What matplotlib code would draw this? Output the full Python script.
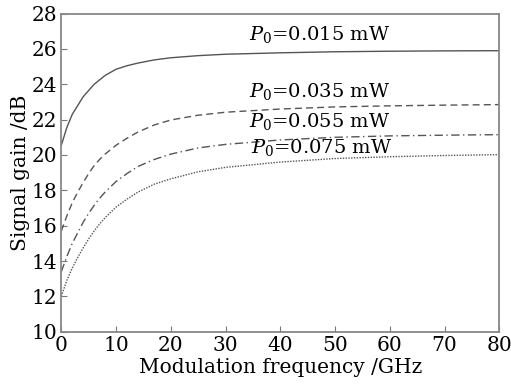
import matplotlib
matplotlib.use('Agg')
import matplotlib.pyplot as plt

plt.rcParams['font.family'] = 'DejaVu Serif'
plt.rcParams['mathtext.fontset'] = 'dejavuserif'

freq = [0, 1, 2, 3, 4, 5, 6, 7, 8, 10, 12, 14, 17, 20, 25, 30, 40, 50, 60, 70, 80]

gain_015 = [20.55, 21.55, 22.3, 22.8, 23.3, 23.65, 24.0, 24.25, 24.5, 24.85, 25.05, 25.2, 25.38, 25.5, 25.62, 25.7, 25.78, 25.84, 25.87, 25.89, 25.9]
gain_035 = [15.7, 16.55, 17.3, 17.9, 18.45, 18.95, 19.4, 19.75, 20.05, 20.55, 20.95, 21.3, 21.7, 21.98, 22.25, 22.42, 22.6, 22.72, 22.78, 22.82, 22.85]
gain_055 = [13.4, 14.25, 15.0, 15.6, 16.2, 16.7, 17.15, 17.55, 17.9, 18.5, 18.95, 19.35, 19.75, 20.05, 20.4, 20.6, 20.85, 21.0, 21.08, 21.12, 21.15]
gain_075 = [12.0, 12.9, 13.6, 14.2, 14.75, 15.25, 15.7, 16.1, 16.45, 17.05, 17.5, 17.9, 18.35, 18.65, 19.05, 19.3, 19.6, 19.8, 19.9, 19.97, 20.02]

labels = [r'$P_{\rm 0}$=0.015 mW', r'$P_{\rm 0}$=0.035 mW',
          r'$P_{\rm 0}$=0.055 mW', r'$P_{\rm 0}$=0.075 mW']
label_x = [34.3, 34.3, 34.3, 34.6]
label_y = [26.8, 23.6, 21.9, 20.45]

fig = plt.figure(figsize=(5.11, 3.88), dpi=100)
ax = fig.add_axes([0.12, 0.145, 0.857, 0.82])

line_color = '#555555'
ax.plot(freq, gain_015, color=line_color, lw=1.0, ls='-')
ax.plot(freq, gain_035, color=line_color, lw=1.0, ls=(0, (5, 3)))
ax.plot(freq, gain_055, color=line_color, lw=1.0, ls=(0, (6, 2.5, 1, 2.5)))
ax.plot(freq, gain_075, color=line_color, lw=1.0, ls=(0, (1, 1)))

for t, x, y in zip(labels, label_x, label_y):
    ax.text(x, y, t, fontsize=14, va='center', ha='left')

ax.set_xlim(0, 80)
ax.set_ylim(10, 28)
ax.set_xticks(range(0, 81, 10))
ax.set_yticks(range(10, 29, 2))
ax.tick_params(direction='in', length=4, width=0.8, color='#777777',
               labelsize=14.5, top=False, right=False, pad=3)
for s in ax.spines.values():
    s.set_color('#888888')
    s.set_linewidth(1.3)

ax.set_xlabel('Modulation frequency /GHz', fontsize=14.5, labelpad=2)
ax.set_ylabel('Signal gain /dB', fontsize=14.5, labelpad=1)

fig.savefig('out.png', dpi=100)
